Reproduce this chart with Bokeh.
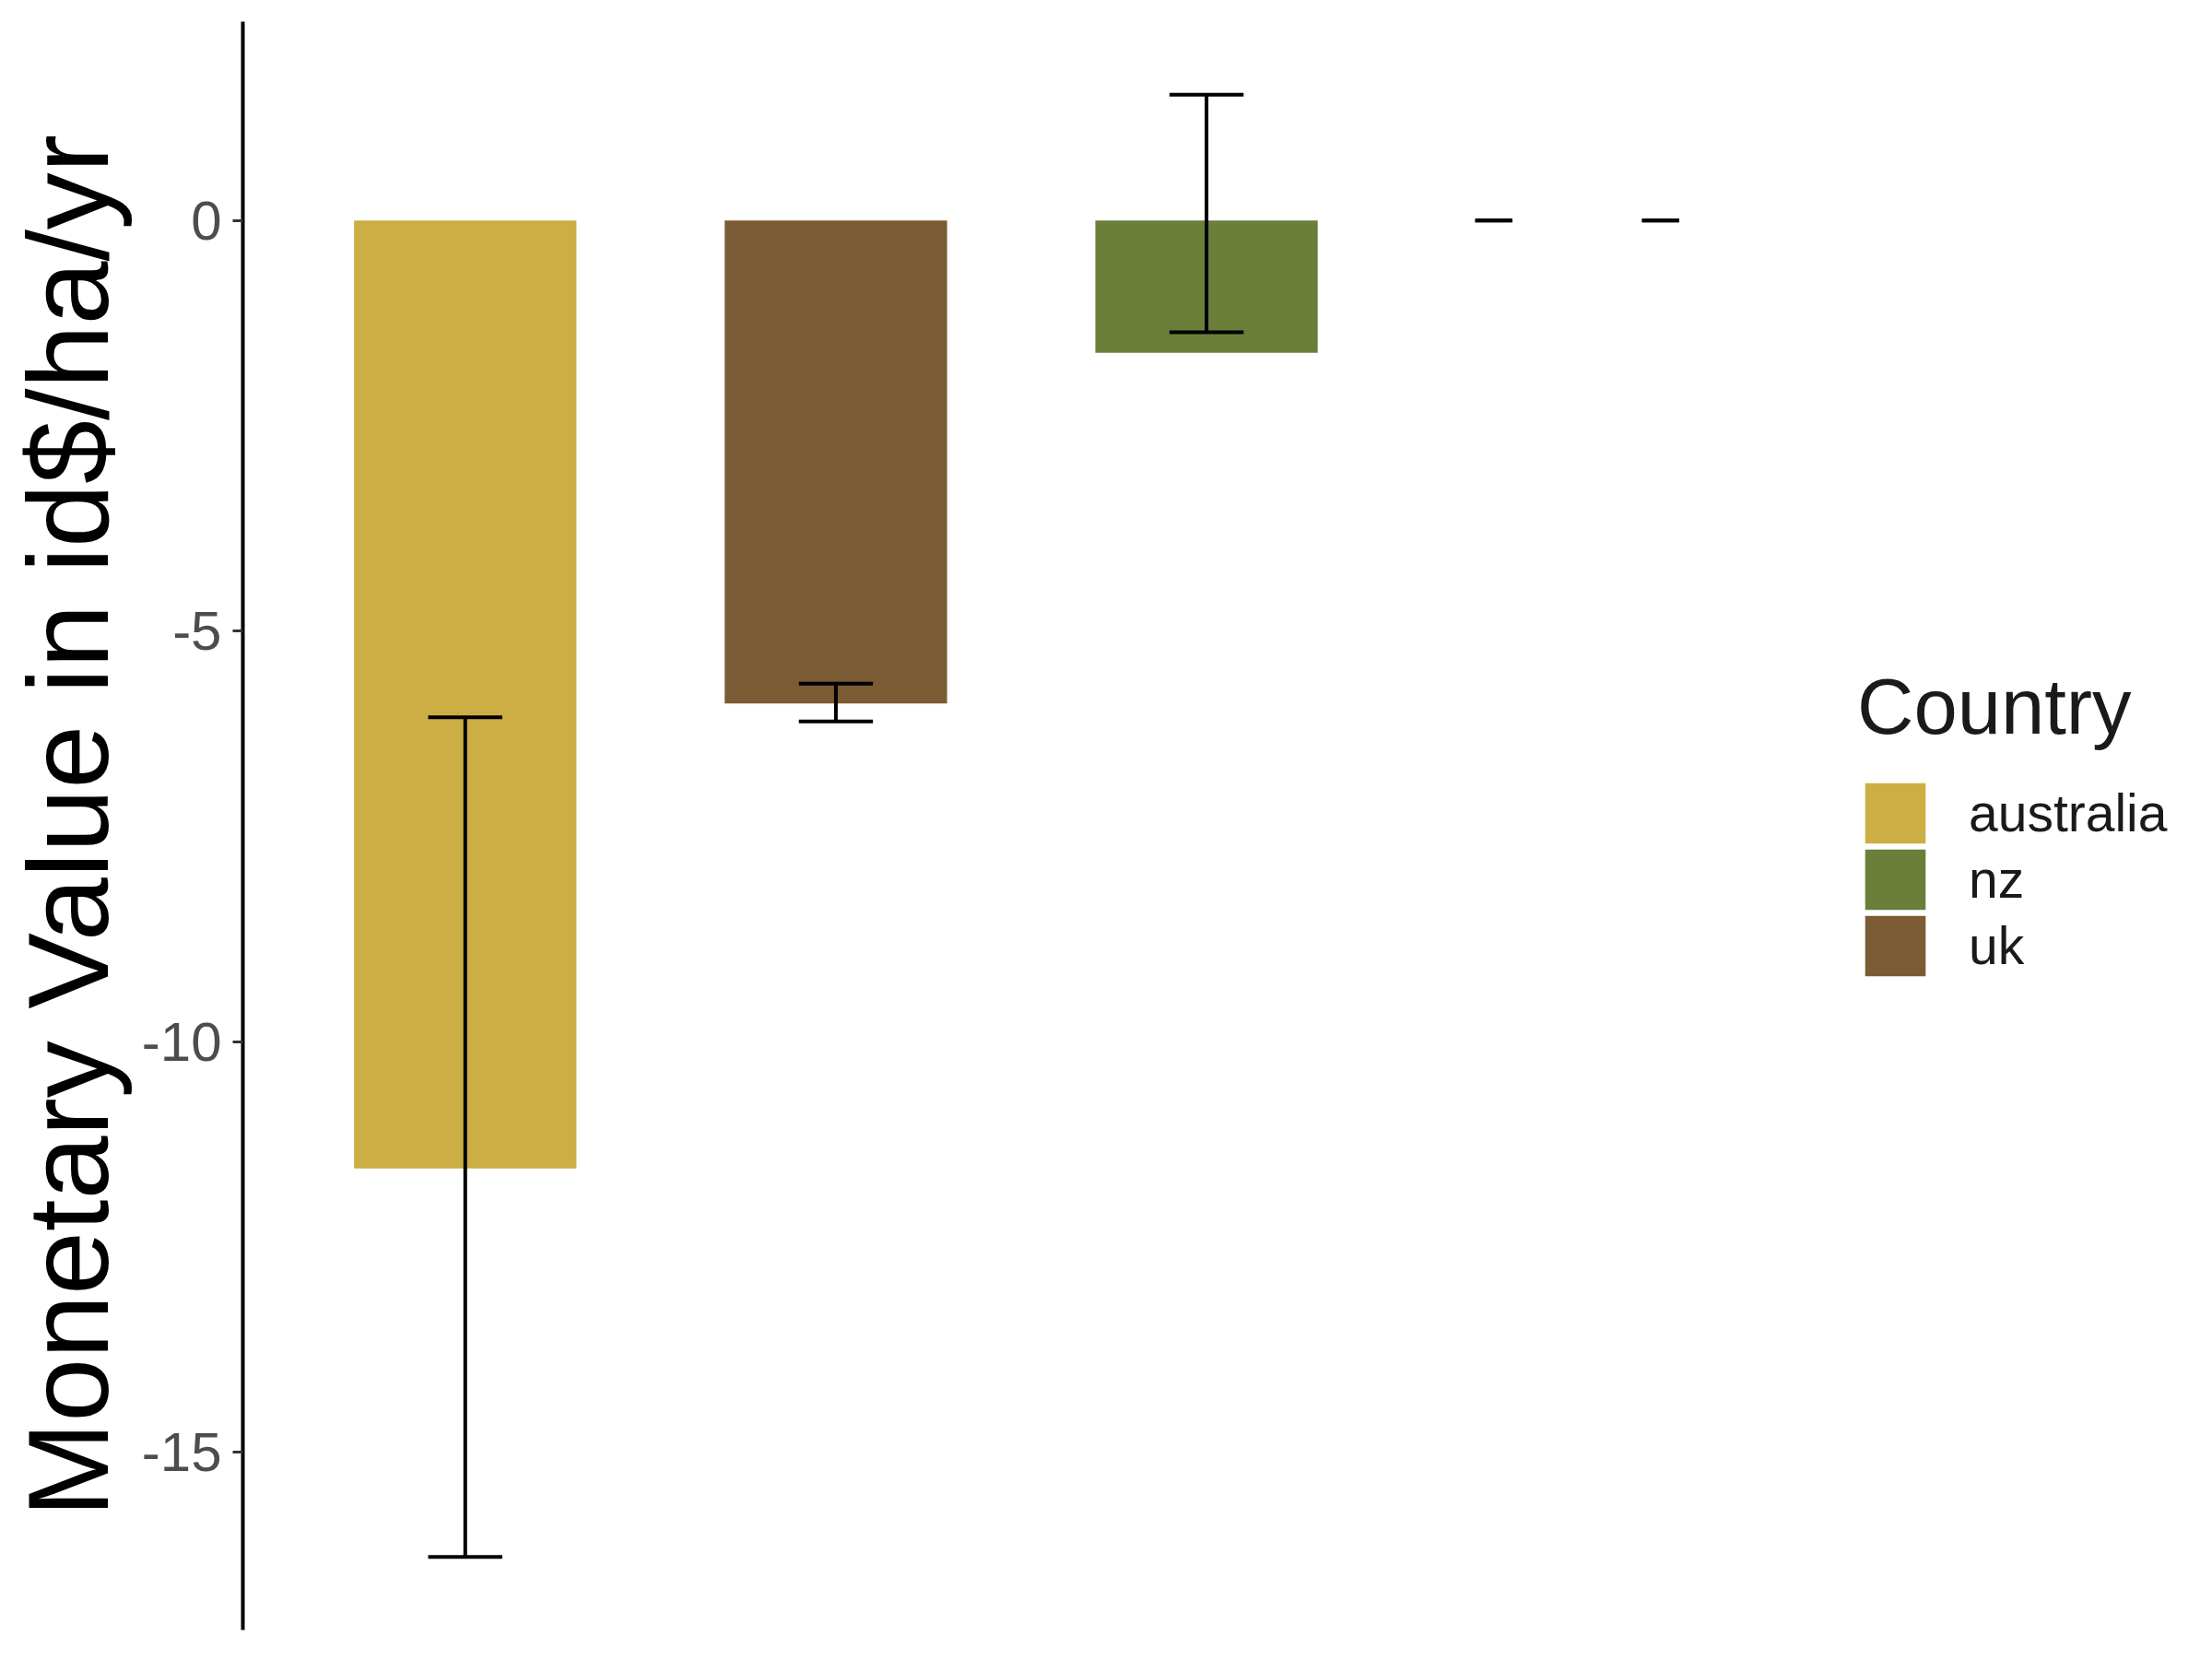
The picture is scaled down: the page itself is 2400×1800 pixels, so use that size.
from bokeh.plotting import figure
from bokeh.models import Range1d, FixedTicker, Legend, LegendItem, ColumnDataSource
from bokeh.embed import file_html
from bokeh.resources import INLINE

# ---- data ----
countries = ["australia", "uk", "nz"]
mean_value = [-11.54, -5.88, -1.61]
err_lower = [-16.27, -6.10, -1.36]
err_upper = [-6.05, -5.64, 1.53]
bar_colors = ["#CDAE44", "#7B5B34", "#6B7F3A"]

# fourth position: two dodged groups with zero value and zero spread
extra_values = [0.0, 0.0]
extra_lower = [0.0, 0.0]
extra_upper = [0.0, 0.0]

legend_order = ["australia", "nz", "uk"]
tick_values = [0, -5, -10, -15]
tick_labels = ["0", "-5", "-10", "-15"]
y_title = "Monetary Value in id$/ha/yr"
legend_title = "Country"

FONT = "Liberation Sans"

# ---- derived positions ----
xs = [i + 1 for i in range(len(countries))]
bar_width = 0.6
cap_w = 0.2
dodge = 0.9
n_extra = len(extra_values)
extra_pos = len(countries) + 1
extra_x = [extra_pos + (j - (n_extra - 1) / 2) * dodge / n_extra for j in range(n_extra)]
extra_cap = cap_w / n_extra

all_low = err_lower + extra_lower + mean_value + extra_values
all_high = err_upper + extra_upper + [0.0]
lo, hi = min(all_low), max(all_high)
pad = (hi - lo) * 0.05

# panel spans 0.4 .. 4.6 over 1689 px; frame extended to canvas edge so the legend fits inside it
x_start, x_panel_end = 0.4, extra_pos + 0.6
frame_left, panel_px = 263, 1689
x_end = x_start + (2400 - frame_left) / panel_px * (x_panel_end - x_start)

p = figure(width=2400, height=1800, output_backend="svg", toolbar_location=None,
           x_range=Range1d(x_start, x_end),
           y_range=Range1d(lo - pad, hi + pad),
           min_border_left=frame_left, min_border_right=0,
           min_border_top=23, min_border_bottom=32)
p.background_fill_color = "white"
p.border_fill_color = "white"
p.outline_line_color = None
p.xgrid.visible = False
p.ygrid.visible = False
p.xaxis.visible = False

src = ColumnDataSource(dict(x=xs, top=[0.0] * len(xs), bottom=mean_value,
                            color=bar_colors, country=countries))
bars = p.vbar(x="x", width=bar_width, top="top", bottom="bottom",
              fill_color="color", line_color=None, source=src)

# error bars
lw = 4
p.segment(x0=xs, x1=xs, y0=err_lower, y1=err_upper, line_color="black", line_width=lw)
p.segment(x0=[x - cap_w / 2 for x in xs], x1=[x + cap_w / 2 for x in xs],
          y0=err_lower, y1=err_lower, line_color="black", line_width=lw)
p.segment(x0=[x - cap_w / 2 for x in xs], x1=[x + cap_w / 2 for x in xs],
          y0=err_upper, y1=err_upper, line_color="black", line_width=lw)
p.segment(x0=extra_x, x1=extra_x, y0=extra_lower, y1=extra_upper, line_color="black", line_width=lw)
p.segment(x0=[x - extra_cap / 2 for x in extra_x], x1=[x + extra_cap / 2 for x in extra_x],
          y0=extra_lower, y1=extra_lower, line_color="black", line_width=lw)
p.segment(x0=[x - extra_cap / 2 for x in extra_x], x1=[x + extra_cap / 2 for x in extra_x],
          y0=extra_upper, y1=extra_upper, line_color="black", line_width=lw)

# y axis
ya = p.yaxis[0]
ya.ticker = FixedTicker(ticks=tick_values)
ya.minor_tick_line_color = None
ya.major_label_overrides = {float(v): t for v, t in zip(tick_values, tick_labels)}
ya.major_tick_in = 0
ya.major_tick_out = 11
ya.major_tick_line_width = 3
ya.major_tick_line_color = "#333333"
ya.axis_line_width = 4
ya.axis_line_color = "black"
ya.major_label_text_font = FONT
ya.major_label_text_font_size = "60px"
ya.major_label_text_color = "#4D4D4D"
ya.major_label_standoff = 12
ya.axis_label = y_title
ya.axis_label_text_font = FONT
ya.axis_label_text_font_size = "124px"
ya.axis_label_text_font_style = "normal"
ya.axis_label_text_color = "black"
ya.axis_label_standoff = 8

# legend: one block per key so that keys sit 72 px apart with 66 px swatches
key_step = 72
legend_x, last_key_y = 1752, 701
n_keys = len(legend_order)
for k, c in enumerate(legend_order):
    item = LegendItem(label=c, renderers=[bars], index=countries.index(c))
    lg = Legend(items=[item], location=(legend_x, last_key_y + (n_keys - 1 - k) * key_step))
    if k == 0:
        lg.title = legend_title
    lg.padding = 0
    lg.margin = 0
    lg.border_line_color = None
    lg.background_fill_alpha = 0
    lg.glyph_width = 82
    lg.glyph_height = 82
    lg.spacing = 0
    lg.label_standoff = 39
    lg.label_text_font = FONT
    lg.label_text_font_size = "57px"
    lg.label_text_color = "#1A1A1A"
    lg.title_text_font = FONT
    lg.title_text_font_size = "85px"
    lg.title_text_font_style = "normal"
    lg.title_text_color = "#1A1A1A"
    lg.title_standoff = 25
    p.add_layout(lg)

open("out.html", "w").write(file_html(p, INLINE))
